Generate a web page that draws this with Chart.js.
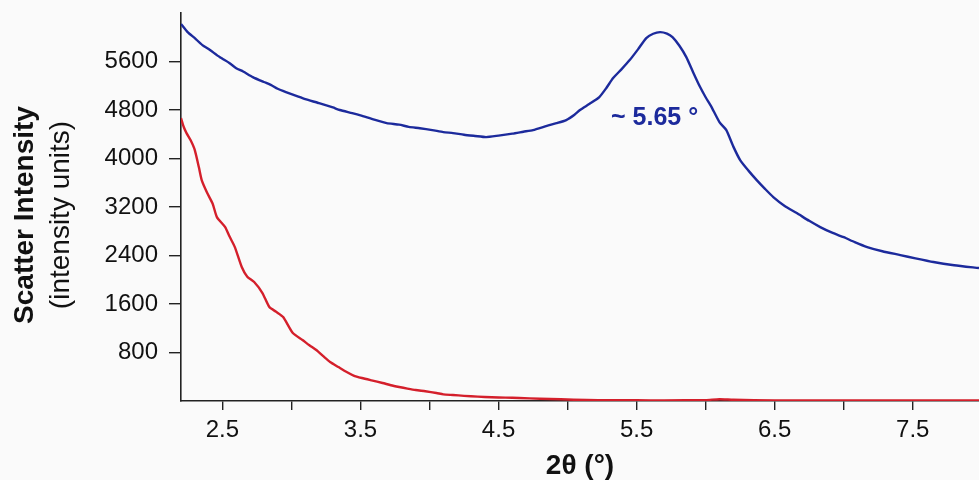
<!DOCTYPE html>
<html>
<head>
<meta charset="utf-8">
<script src="https://cdn.jsdelivr.net/npm/chart.js@4/dist/chart.umd.min.js"></script>
<style>
  html, body { margin: 0; padding: 0; background: #fafafa; }
  #wrap { width: 979px; height: 480px; position: relative; }
</style>
</head>
<body>
<div id="wrap"><canvas id="scatterChart"></canvas></div>
<script>
// Scattering curves
const blueTheta = [2.20, 2.25, 2.30, 2.355, 2.40, 2.48, 2.55, 2.60, 2.65, 2.72, 2.80, 2.85, 2.90, 2.96,
    3.05, 3.10, 3.20, 3.30, 3.35, 3.44, 3.50, 3.60, 3.69, 3.78, 3.85, 3.93, 4.02, 4.10, 4.17, 4.25,
    4.33, 4.41, 4.50, 4.60, 4.68, 4.75, 4.85, 4.92, 4.99, 5.05, 5.09, 5.16, 5.23, 5.28, 5.33, 5.39,
    5.45, 5.51, 5.57, 5.62, 5.67, 5.72, 5.76, 5.81, 5.86, 5.91, 5.96, 6.00, 6.04, 6.10, 6.15, 6.20,
    6.25, 6.31, 6.37, 6.43, 6.49, 6.57, 6.66, 6.75, 6.83, 6.92, 7.00, 7.08, 7.17, 7.28, 7.41, 7.52,
    7.65, 7.80, 7.98];
const blueIntensity = [6220, 6080, 5985, 5870, 5805, 5673, 5575, 5490, 5435, 5343, 5262, 5215, 5150, 5096,
    5022, 4978, 4914, 4842, 4800, 4749, 4712, 4640, 4584, 4558, 4522, 4500, 4469, 4436, 4419, 4392,
    4372, 4353, 4378, 4410, 4442, 4469, 4538, 4582, 4634, 4722, 4800, 4902, 5013, 5160, 5326, 5470,
    5623, 5800, 5986, 6058, 6085, 6060, 6002, 5860, 5673, 5420, 5178, 5010, 4860, 4600, 4469, 4200,
    3974, 3800, 3644, 3500, 3364, 3222, 3100, 2972, 2869, 2772, 2702, 2620, 2539, 2470, 2407, 2352,
    2292, 2240, 2193];

const redTheta = [2.20, 2.22, 2.24, 2.27, 2.30, 2.33, 2.35, 2.39, 2.43, 2.46, 2.52, 2.55, 2.59, 2.64,
    2.68, 2.73, 2.79, 2.84, 2.89, 2.94, 3.01, 3.08, 3.13, 3.18, 3.23, 3.28, 3.34, 3.40, 3.45, 3.51,
    3.58, 3.66, 3.72, 3.78, 3.84, 3.90, 3.97, 4.05, 4.10, 4.17, 4.25, 4.35, 4.45, 4.55, 4.65, 4.80,
    4.95, 5.14, 5.30, 5.50, 5.70, 6.00, 6.10, 6.20, 6.50, 7.00, 7.50, 7.98];
const redIntensity = [4667, 4520, 4419, 4300, 4139, 3850, 3644, 3430, 3250, 3034, 2869, 2720, 2539, 2210,
    2050, 1962, 1781, 1550, 1470, 1385, 1121, 1006, 920, 841, 740, 643, 560, 478, 420, 379,
    340, 297, 260, 231, 205, 181, 160, 132, 110, 99, 85, 72, 62, 55, 50, 38,
    28, 16, 14, 12, 10, 15, 30, 20, 10, 8, 8, 8];

const peakLabel = '~ 5.65 °';
const peakLabelAt = [5.63, 4670];

function toPoints(xs, ys) {
    return xs.map((x, i) => ({ x: x, y: ys[i] }));
}

// Axis titles on the left and the peak note
const textPlugin = {
    id: 'textPlugin',
    afterDraw(chart) {
        const ctx = chart.ctx;
        const xs = chart.scales.x, ys = chart.scales.y;
        ctx.save();
        ctx.fillStyle = '#111';
        ctx.textAlign = 'center';
        ctx.textBaseline = 'alphabetic';
        ctx.translate(33, 215);
        ctx.rotate(-Math.PI / 2);
        ctx.font = 'bold 28px "Liberation Sans", Arial, sans-serif';
        ctx.fillText('Scatter Intensity', 0, 0);
        ctx.font = '28px "Liberation Sans", Arial, sans-serif';
        ctx.fillText('(intensity units)', 0, 36);
        ctx.restore();

        ctx.save();
        ctx.fillStyle = '#1c2a9c';
        ctx.font = 'bold 25px "Liberation Sans", Arial, sans-serif';
        ctx.textAlign = 'center';
        ctx.textBaseline = 'middle';
        ctx.fillText(peakLabel, xs.getPixelForValue(peakLabelAt[0]), ys.getPixelForValue(peakLabelAt[1]));
        ctx.restore();
    }
};

const tickFont = { family: '"Liberation Sans", Arial, sans-serif', size: 24 };

new Chart(document.getElementById('scatterChart'), {
    type: 'line',
    data: {
        datasets: [{
            data: toPoints(blueTheta, blueIntensity),
            borderColor: '#1c2a9c',
            borderWidth: 2.4,
            pointRadius: 0,
            tension: 0.2
        }, {
            data: toPoints(redTheta, redIntensity),
            borderColor: '#d41f2b',
            borderWidth: 2.4,
            pointRadius: 0,
            tension: 0.2
        }]
    },
    options: {
        responsive: true,
        maintainAspectRatio: false,
        animation: false,
        layout: { padding: { top: 13, right: 0, left: 0, bottom: 0 } },
        plugins: { legend: { display: false }, tooltip: { enabled: false } },
        scales: {
            x: {
                type: 'linear',
                min: 2.2,
                max: 7.98,
                afterFit: scale => { scale.height = 79; scale.paddingLeft = 0; scale.paddingRight = 0; },
                border: { color: '#222', width: 1.6 },
                grid: { drawOnChartArea: false, drawTicks: true, tickLength: 9, color: '#222', lineWidth: 1.4 },
                ticks: {
                    stepSize: 0.5,
                    includeBounds: false,
                    padding: 6,
                    color: '#111',
                    font: tickFont,
                    maxRotation: 0,
                    autoSkip: false,
                    callback: v => (Math.abs(v * 2 % 2 - 1) < 1e-6 ? v.toFixed(1) : '')
                },
                title: {
                    display: true,
                    text: '2θ (°)',
                    color: '#111',
                    font: { family: '"Liberation Sans", Arial, sans-serif', size: 28, weight: 'bold', lineHeight: 1.0 },
                    padding: { top: 0, bottom: 0 }
                }
            },
            y: {
                min: 0,
                max: 6400,
                afterFit: scale => { scale.width = 181; scale.paddingTop = 0; scale.paddingBottom = 0; },
                border: { color: '#222', width: 1.6 },
                grid: {
                    drawOnChartArea: false,
                    drawTicks: true,
                    tickLength: 12,
                    lineWidth: 1.4,
                    color: c => (c.tick && (c.tick.value === 0 || c.tick.value === 6400) ? 'rgba(0,0,0,0)' : '#222')
                },
                ticks: {
                    stepSize: 800,
                    padding: 11,
                    color: '#111',
                    font: tickFont,
                    callback: v => (v === 0 || v === 6400 ? '' : String(v))
                }
            }
        }
    },
    plugins: [textPlugin]
});
</script>
</body>
</html>
